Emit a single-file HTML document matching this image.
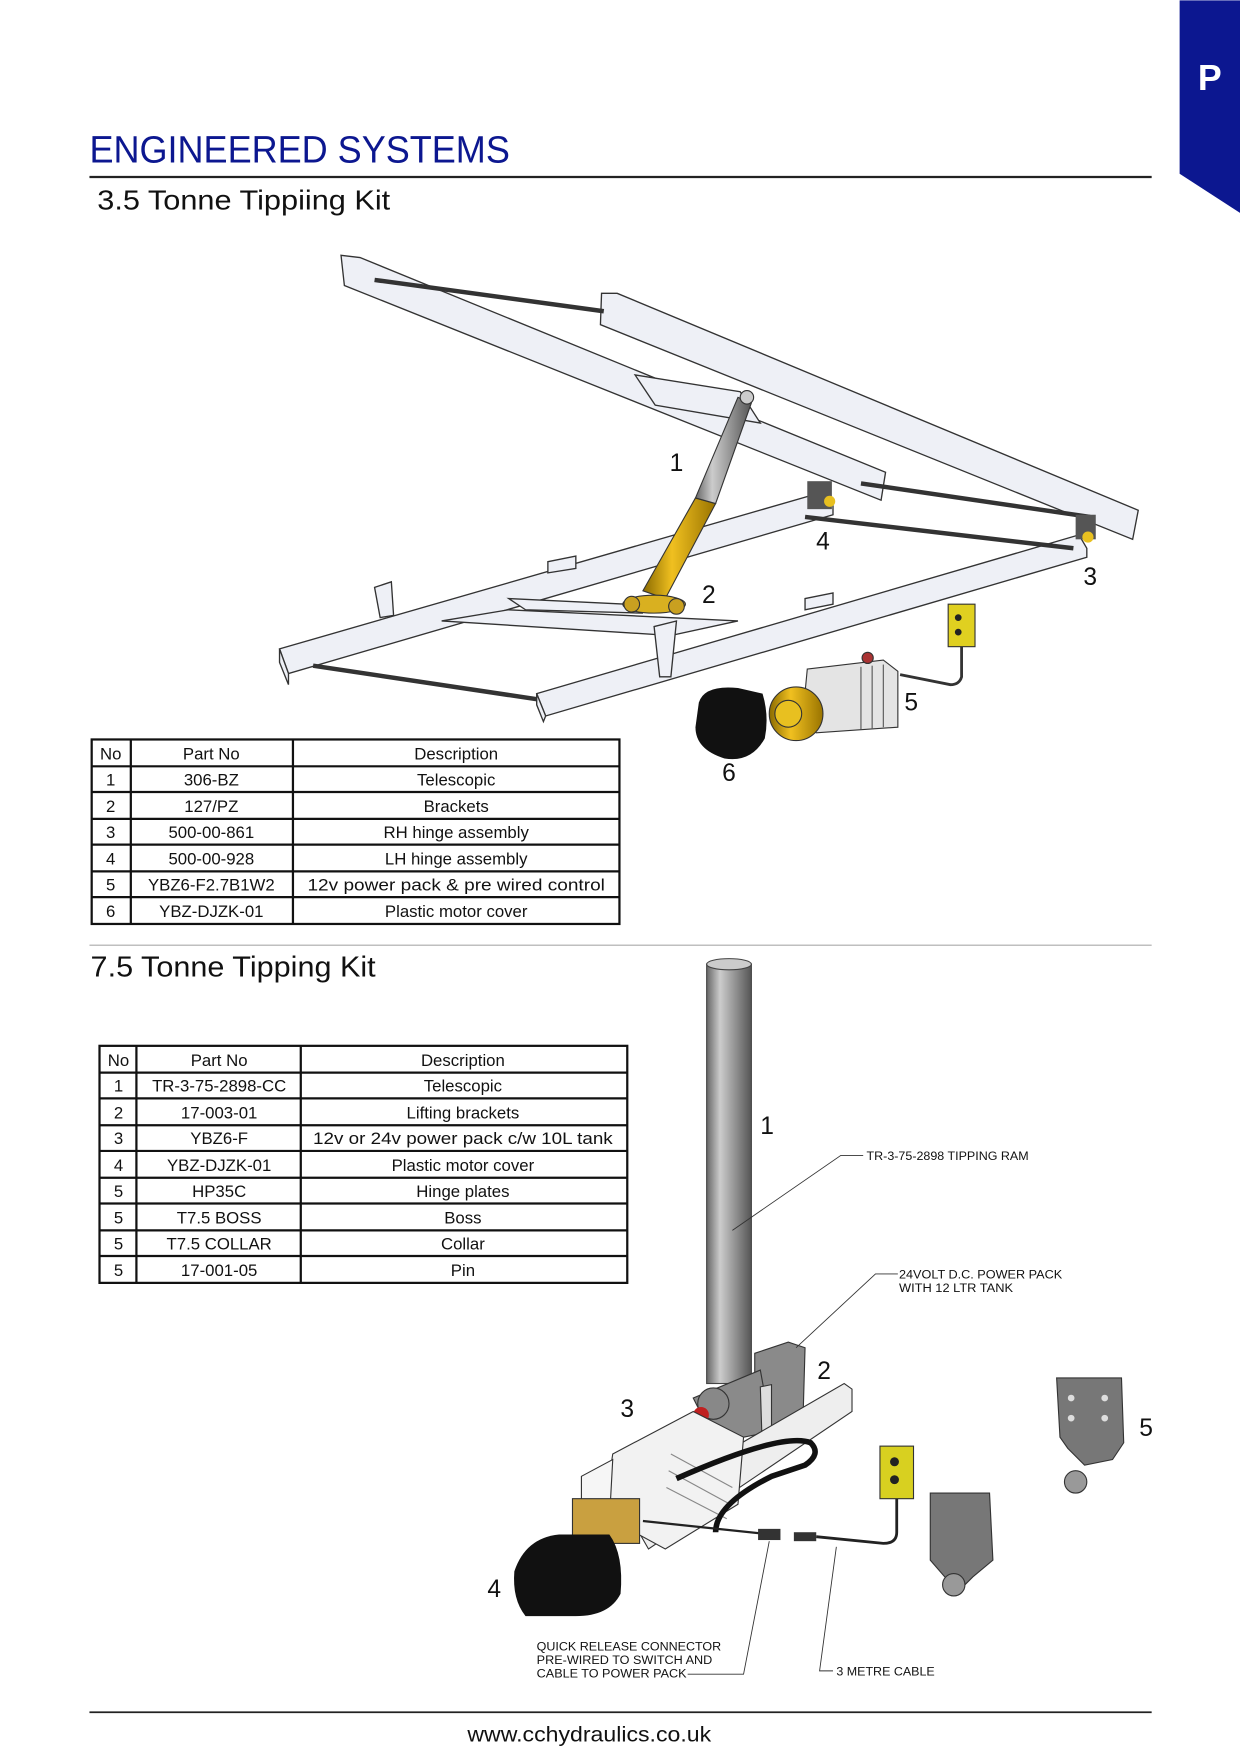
<!DOCTYPE html>
<html><head><meta charset="utf-8"><style>
html,body{margin:0;padding:0;background:#fff}
svg{display:block}
text{font-family:"Liberation Sans",sans-serif}
</style></head><body>
<svg width="1240" height="1754" viewBox="0 0 1109 1568" xmlns="http://www.w3.org/2000/svg">
<defs>
<linearGradient id="cyl" x1="0" x2="1"><stop offset="0" stop-color="#666"/><stop offset=".3" stop-color="#ccc"/><stop offset=".6" stop-color="#999"/><stop offset="1" stop-color="#555"/></linearGradient>
<linearGradient id="yel" x1="0" x2="1"><stop offset="0" stop-color="#8a6a00"/><stop offset=".4" stop-color="#f0c020"/><stop offset="1" stop-color="#9a7400"/></linearGradient>
</defs>
<polygon points="1055,0 1109,0 1109,190 1055,155" fill="#0c1790"/>
<text x="1082" y="80" font-size="32" font-weight="bold" fill="#fff" text-anchor="middle">P</text>
<text x="80" y="145" font-size="34" fill="#0c1790" textLength="376" lengthAdjust="spacingAndGlyphs">ENGINEERED SYSTEMS</text>
<line x1="80" y1="158" x2="1030" y2="158" stroke="#222" stroke-width="2"/>
<text x="87" y="187" font-size="25" fill="#111" textLength="262" lengthAdjust="spacingAndGlyphs">3.5 Tonne Tippiing Kit</text>

<g stroke="#333" stroke-width="1.2" fill="#eef0f6">
<polygon points="250,580 735,440 745,452 745,460 258,602"/>
<polygon points="250,580 258,602 258,612 250,592"/>
<polygon points="480,620 965,478 972,490 972,498 488,640"/>
<polygon points="480,620 488,640 486,645 480,630"/>
<line x1="280" y1="595" x2="480" y2="625" stroke-width="4"/>
<line x1="720" y1="462" x2="960" y2="490" stroke-width="4"/>
<polygon points="395,555 455,545 660,555 600,568"/>
<polygon points="455,535 560,540 575,548 470,545"/>
<polygon points="305,228 322,230 792,422 788,447 308,255"/>
<polygon points="538,262 552,262 1018,456 1013,482 537,290"/>
<line x1="335" y1="250" x2="540" y2="278" stroke-width="4"/>
<line x1="770" y1="432" x2="975" y2="462" stroke-width="4"/>
<polygon points="568,335 662,350 680,378 586,362"/>
<polygon points="585,560 605,555 600,605 590,605"/>
<polygon points="335,525 350,520 352,550 340,552"/>
<polygon points="490,502 515,497 515,508 490,512"/>
<polygon points="720,535 745,530 745,540 720,545"/>
</g>
<polygon points="622,445 640,450 595,535 575,528" fill="url(#yel)" stroke="#333"/>
<polygon points="640,450 622,445 660,355 672,360" fill="url(#cyl)" stroke="#333"/>
<ellipse cx="585" cy="540" rx="28" ry="8" fill="#d9b020" stroke="#333"/>
<circle cx="565" cy="540" r="7" fill="#c9a020" stroke="#333"/><circle cx="605" cy="542" r="7" fill="#c9a020" stroke="#333"/>
<circle cx="668" cy="355" r="6" fill="#ccc" stroke="#333"/>
<rect x="722" y="430" width="22" height="25" fill="#555"/><circle cx="742" cy="448" r="5" fill="#e8c020"/>
<rect x="962" y="460" width="18" height="22" fill="#555"/><circle cx="973" cy="480" r="5" fill="#e8c020"/>
<path d="M625,628 Q630,612 660,615 L682,620 Q688,640 684,660 Q672,682 648,678 Q622,670 622,650Z" fill="#111"/>
<polygon points="722,598 790,590 803,600 803,650 730,655 718,640" fill="#e4e4e4" stroke="#333"/>
<g stroke="#555"><line x1="770" y1="596" x2="770" y2="652"/><line x1="780" y1="595" x2="780" y2="651"/><line x1="790" y1="594" x2="790" y2="650"/></g>
<circle cx="776" cy="588" r="5" fill="#a33" stroke="#333"/>
<circle cx="712" cy="638" r="24" fill="url(#yel)" stroke="#333"/><circle cx="705" cy="638" r="12" fill="#e8c020" stroke="#333"/>
<rect x="848" y="540" width="24" height="38" fill="#e0d020" stroke="#333"/>
<circle cx="857" cy="552" r="3" fill="#222"/><circle cx="857" cy="565" r="3" fill="#222"/>
<path d="M860,578 L860,605 Q858,612 850,612 L805,603" fill="none" stroke="#333" stroke-width="2.5"/>
<g font-size="22" fill="#111">
<text x="605" y="421" text-anchor="middle">1</text><text x="634" y="539" text-anchor="middle">2</text>
<text x="975" y="523" text-anchor="middle">3</text><text x="736" y="491" text-anchor="middle">4</text>
<text x="815" y="635" text-anchor="middle">5</text><text x="652" y="698" text-anchor="middle">6</text>
</g>

<g fill="none" stroke="#111" stroke-width="2">
<rect x="82" y="661" width="472" height="165"/>
<line x1="117" y1="661" x2="117" y2="826"/><line x1="262" y1="661" x2="262" y2="826"/>
<line x1="82" y1="685" x2="554" y2="685"/><line x1="82" y1="708" x2="554" y2="708"/><line x1="82" y1="732" x2="554" y2="732"/><line x1="82" y1="755" x2="554" y2="755"/><line x1="82" y1="779" x2="554" y2="779"/><line x1="82" y1="802" x2="554" y2="802"/>
</g>
<g font-size="15" fill="#111" text-anchor="middle">
<text x="99" y="679">No</text><text x="189" y="679">Part No</text><text x="408" y="679">Description</text>
<text x="99" y="702">1</text><text x="189" y="702">306-BZ</text><text x="408" y="702">Telescopic</text>
<text x="99" y="726">2</text><text x="189" y="726">127/PZ</text><text x="408" y="726">Brackets</text>
<text x="99" y="749">3</text><text x="189" y="749">500-00-861</text><text x="408" y="749">RH hinge assembly</text>
<text x="99" y="773">4</text><text x="189" y="773">500-00-928</text><text x="408" y="773">LH hinge assembly</text>
<text x="99" y="796">5</text><text x="189" y="796">YBZ6-F2.7B1W2</text><text x="408" y="796" textLength="266" lengthAdjust="spacingAndGlyphs">12v power pack &amp; pre wired control</text>
<text x="99" y="820">6</text><text x="189" y="820">YBZ-DJZK-01</text><text x="408" y="820">Plastic motor cover</text>
</g>

<line x1="80" y1="845" x2="1030" y2="845" stroke="#aaa" stroke-width="1"/>
<text x="81" y="873" font-size="26" fill="#111" textLength="255" lengthAdjust="spacingAndGlyphs">7.5 Tonne Tipping Kit</text>

<g fill="none" stroke="#111" stroke-width="2">
<rect x="89" y="935" width="472" height="212"/>
<line x1="122" y1="935" x2="122" y2="1147"/><line x1="269" y1="935" x2="269" y2="1147"/>
<line x1="89" y1="959" x2="561" y2="959"/><line x1="89" y1="982" x2="561" y2="982"/><line x1="89" y1="1006" x2="561" y2="1006"/><line x1="89" y1="1029" x2="561" y2="1029"/><line x1="89" y1="1053" x2="561" y2="1053"/><line x1="89" y1="1076" x2="561" y2="1076"/><line x1="89" y1="1100" x2="561" y2="1100"/><line x1="89" y1="1123" x2="561" y2="1123"/>
</g>
<g font-size="15" fill="#111" text-anchor="middle">
<text x="106" y="953">No</text><text x="196" y="953">Part No</text><text x="414" y="953">Description</text>
<text x="106" y="976">1</text><text x="196" y="976">TR-3-75-2898-CC</text><text x="414" y="976">Telescopic</text>
<text x="106" y="1000">2</text><text x="196" y="1000">17-003-01</text><text x="414" y="1000">Lifting brackets</text>
<text x="106" y="1023">3</text><text x="196" y="1023">YBZ6-F</text><text x="414" y="1023" textLength="268" lengthAdjust="spacingAndGlyphs">12v or 24v power pack c/w 10L tank</text>
<text x="106" y="1047">4</text><text x="196" y="1047">YBZ-DJZK-01</text><text x="414" y="1047">Plastic motor cover</text>
<text x="106" y="1070">5</text><text x="196" y="1070">HP35C</text><text x="414" y="1070">Hinge plates</text>
<text x="106" y="1094">5</text><text x="196" y="1094">T7.5 BOSS</text><text x="414" y="1094">Boss</text>
<text x="106" y="1117">5</text><text x="196" y="1117">T7.5 COLLAR</text><text x="414" y="1117">Collar</text>
<text x="106" y="1141">5</text><text x="196" y="1141">17-001-05</text><text x="414" y="1141">Pin</text>
</g>

<!-- bottom drawing -->
<rect x="632" y="862" width="40" height="375" fill="url(#cyl)" stroke="#444"/>
<ellipse cx="652" cy="862" rx="20" ry="5" fill="#ccc" stroke="#444"/>
<polygon points="675,1210 705,1200 720,1205 718,1275 690,1280 675,1260" fill="#8a8a8a" stroke="#333"/>
<polygon points="620,1250 680,1225 690,1280 640,1290" fill="#8a8a8a" stroke="#333"/>
<polygon points="680,1240 690,1238 690,1300 682,1302" fill="#ddd" stroke="#333"/>
<polygon points="560,1350 755,1237 762,1242 762,1262 580,1385" fill="#eee" stroke="#333"/>
<circle cx="638" cy="1255" r="14" fill="#888" stroke="#333"/><circle cx="627" cy="1265" r="7" fill="#c02020"/>
<polygon points="548,1300 620,1262 665,1285 660,1345 595,1385 540,1355" fill="#f2f2f2" stroke="#333"/>
<polygon points="520,1320 548,1305 545,1360 520,1375" fill="#f6f6f6" stroke="#333"/>
<g stroke="#888"><line x1="600" y1="1300" x2="655" y2="1330"/><line x1="598" y1="1315" x2="653" y2="1345"/><line x1="596" y1="1330" x2="650" y2="1358"/></g>
<path d="M605,1322 Q700,1280 725,1290 Q735,1300 720,1310 L690,1320 Q640,1345 640,1370" fill="none" stroke="#111" stroke-width="5"/>
<rect x="512" y="1340" width="60" height="40" fill="#c9a040" stroke="#333"/>
<path d="M460,1405 Q470,1375 500,1372 L545,1372 Q558,1390 555,1425 Q545,1445 515,1445 L470,1445 Q458,1430 460,1405Z" fill="#111"/>
<line x1="575" y1="1360" x2="690" y2="1372" stroke="#222" stroke-width="2"/>
<rect x="678" y="1367" width="20" height="10" fill="#333"/>
<rect x="710" y="1370" width="20" height="8" fill="#333"/>
<path d="M730,1374 L790,1380 Q802,1380 802,1370 L802,1340" fill="none" stroke="#222" stroke-width="2.5"/>
<rect x="787" y="1293" width="30" height="47" fill="#d8d020" stroke="#333"/>
<circle cx="800" cy="1307" r="4" fill="#222"/><circle cx="800" cy="1323" r="4" fill="#222"/>
<path d="M945,1232 L1003,1232 L1005,1290 L995,1305 L970,1310 L955,1295 L948,1285Z" fill="#777" stroke="#333"/>
<g fill="#ddd"><circle cx="958" cy="1250" r="3"/><circle cx="988" cy="1250" r="3"/><circle cx="958" cy="1268" r="3"/><circle cx="988" cy="1268" r="3"/>
<circle cx="843" cy="1350" r="3"/><circle cx="873" cy="1350" r="3"/><circle cx="843" cy="1368" r="3"/><circle cx="873" cy="1368" r="3"/></g>
<circle cx="962" cy="1325" r="10" fill="#999" stroke="#333"/>
<path d="M832,1335 L885,1335 L888,1395 L870,1410 L855,1425 L845,1410 L832,1395Z" fill="#777" stroke="#333"/>
<circle cx="853" cy="1417" r="10" fill="#999" stroke="#333"/>
<g fill="none" stroke="#333" stroke-width="0.8">
<polyline points="655,1100 752,1033 772,1033"/>
<polyline points="712,1205 783,1139 803,1139"/>
<polyline points="615,1497 665,1497 688,1378"/>
<polyline points="745,1494 733,1494 748,1383"/>
</g>
<g font-size="11" fill="#111">
<text x="775" y="1037" textLength="145" lengthAdjust="spacingAndGlyphs">TR-3-75-2898 TIPPING RAM</text>
<text x="804" y="1143" textLength="146" lengthAdjust="spacingAndGlyphs">24VOLT D.C. POWER PACK</text>
<text x="804" y="1155" textLength="102" lengthAdjust="spacingAndGlyphs">WITH 12 LTR TANK</text>
<text x="480" y="1476" textLength="165" lengthAdjust="spacingAndGlyphs">QUICK RELEASE CONNECTOR</text>
<text x="480" y="1488" textLength="157" lengthAdjust="spacingAndGlyphs">PRE-WIRED TO SWITCH AND</text>
<text x="480" y="1500" textLength="134" lengthAdjust="spacingAndGlyphs">CABLE TO POWER PACK</text>
<text x="748" y="1498" textLength="88" lengthAdjust="spacingAndGlyphs">3 METRE CABLE</text>
</g>
<g font-size="22" fill="#111" text-anchor="middle">
<text x="686" y="1014">1</text><text x="737" y="1233">2</text><text x="561" y="1267">3</text><text x="442" y="1428">4</text><text x="1025" y="1284">5</text>
</g>

<line x1="80" y1="1531" x2="1030" y2="1531" stroke="#222" stroke-width="1.5"/>
<text x="527" y="1557" font-size="19" fill="#111" text-anchor="middle" textLength="218" lengthAdjust="spacingAndGlyphs">www.cchydraulics.co.uk</text>
</svg>
</body></html>
